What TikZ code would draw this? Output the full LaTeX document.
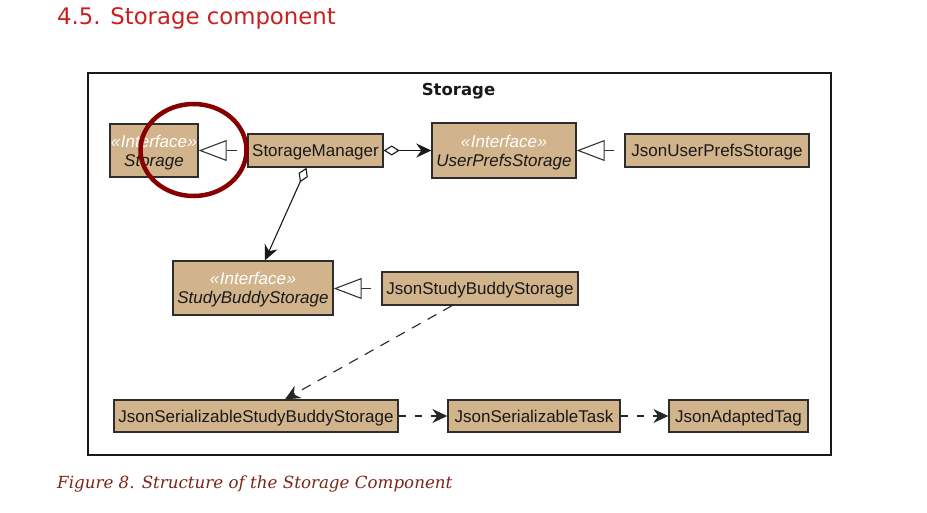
\documentclass[tikz,border=0pt]{standalone}
\usepackage{fontspec}
\setmainfont{Liberation Sans}
\newfontfamily\headfont{DejaVu Sans}
\newfontfamily\capfont{DejaVu Serif}
\usetikzlibrary{arrows.meta}
\definecolor{boxfill}{RGB}{210,180,140}
\definecolor{boxline}{RGB}{45,45,45}
\definecolor{headred}{RGB}{200,32,30}
\definecolor{capred}{RGB}{122,37,24}
\definecolor{circred}{RGB}{135,0,0}
\tikzset{
  cls/.style={draw=boxline, fill=boxfill, line width=1.4pt, inner sep=0pt, text depth=0pt,
    font=\fontsize{17}{19}\selectfont, align=center, text=black!90},
  realize/.style={draw=black!80, line width=1.1pt, dash pattern=on 10pt off 10pt, dash phase=10pt,
    -{Triangle[open, length=28pt, width=21pt, fill=white, line width=1.1pt]}},
  aggr/.style={draw=black!90, line width=1.1pt,
    {Diamond[open, length=16pt, width=10pt, fill=white, line width=1.1pt]}-{Stealth[length=15pt, width=14pt, inset=5pt]}},
  dep/.style={draw=black!85, line width=1.1pt, dash pattern=on 8pt off 8pt,
    -{Stealth[length=15pt, width=14pt, inset=5pt]}},
}
\newcommand{\iface}[1]{{\color{white}\itshape «\kern0.5pt Interface\kern0.5pt»}\\{\itshape #1}}
\begin{document}
\begin{tikzpicture}[x=1pt, y=-1pt]
\useasboundingbox (0,0) rectangle (927,512);
\fill[white] (0,0) rectangle (927,512);
% heading
\node[anchor=base west, inner sep=0pt, text=headred, font=\headfont\fontsize{22.8}{26}\selectfont] (head) at (57,24) {4.5. Storage component};
% frame
\node[draw=black!90, line width=2pt, minimum width=743pt, minimum height=382pt, inner sep=0pt] (frame) at (459.5,264) {};
\node[font=\headfont\bfseries\fontsize{16.5}{19}\selectfont, inner sep=0pt, text=black!90] (title) at (458.5,91) {Storage};
% classes
\node[cls, minimum width=88pt, minimum height=53pt] (st) at (154,150.5) {\iface{Storage}};
\node[cls, minimum width=135pt, minimum height=33pt] (sm) at (315.5,150.5) {StorageManager};
\node[cls, minimum width=144pt, minimum height=55pt] (ups) at (504,150.5) {\iface{UserPrefsStorage}};
\node[cls, minimum width=184pt, minimum height=33pt] (jups) at (717,150.5) {JsonUserPrefsStorage};
\node[cls, minimum width=160pt, minimum height=54pt] (sbs) at (253,288) {\iface{StudyBuddyStorage}};
\node[cls, minimum width=196pt, minimum height=33pt] (jsbs) at (480,288.5) {JsonStudyBuddyStorage};
\node[cls, minimum width=284pt, minimum height=32pt] (jssbs) at (256,416) {JsonSerializableStudyBuddyStorage};
\node[cls, minimum width=172pt, minimum height=32pt] (jst) at (534,416) {JsonSerializableTask};
\node[cls, minimum width=139pt, minimum height=32pt] (jat) at (738.5,416) {JsonAdaptedTag};
% connectors
\draw[realize] (sm.west) -- (st.east);
\draw[realize] (jups.west) -- (ups.west -| ups.east);
\draw[realize] (jsbs.west) -- (jsbs.west -| sbs.east);
\draw[aggr] (sm.east) -- (ups.west);
\coordinate (smb) at ([xshift=-9pt]sm.south);
\coordinate (sbt) at ([xshift=12pt]sbs.north);
\draw[aggr] (smb) -- (sbt);
\coordinate (jsbsb) at ([xshift=-28pt]jsbs.south);
\coordinate (jssbst) at ([xshift=29pt]jssbs.north);
\draw[dep, dash pattern=on 10pt off 8pt] (jsbsb) -- (jssbst);
\draw[dep, dash pattern=on 7pt off 9pt] (jssbs.east) -- (jst.west);
\draw[dep, dash pattern=on 7pt off 9pt] (jst.east) -- (jat.west);
% highlight ellipse
\draw[circred, line width=4.5pt] (193.5,150) ellipse [x radius=53pt, y radius=46pt];
% caption
\node[anchor=base west, inner sep=0pt, text=capred, font=\capfont\itshape\fontsize{16.7}{19}\selectfont] (cap) at (57,488) {Figure 8. Structure of the Storage Component};
\end{tikzpicture}
\end{document}
